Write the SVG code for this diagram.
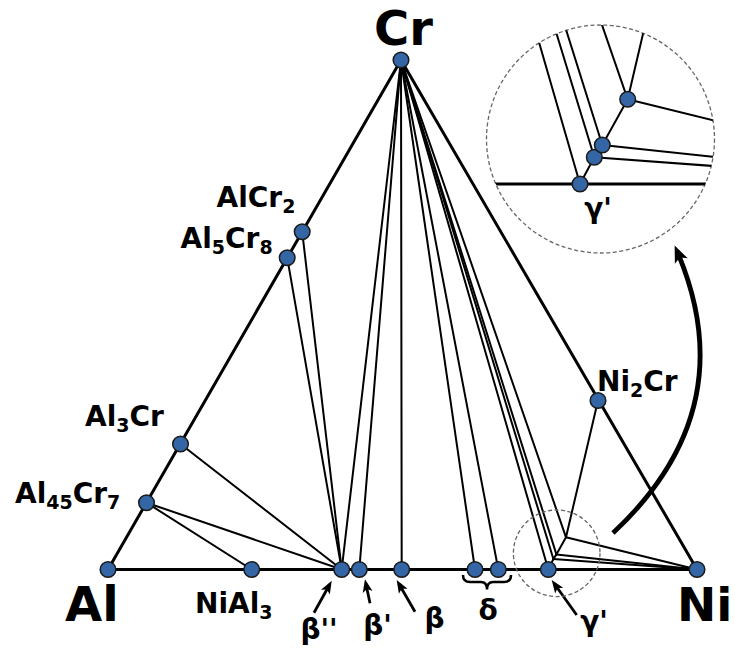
<svg xmlns="http://www.w3.org/2000/svg" width="735" height="654" viewBox="0 0 735 654">
<style>
text{font-family:"DejaVu Sans","Liberation Sans",sans-serif;font-weight:bold;fill:#000}
.big{font-size:48px}
.lbl{font-size:28px}
.sub{font-size:19px}
.edge{stroke:#000;stroke-width:3;fill:none;stroke-linecap:round}
.tie{stroke:#000;stroke-width:2;fill:none;stroke-linecap:round}
.node{fill:#3465a4;stroke:#1a1a1a;stroke-width:1.5}
.dash{fill:none;stroke:#666;stroke-width:1.3;stroke-dasharray:4 2.5}
.ptr{stroke:#000;stroke-width:2.8;fill:none}
</style>
<defs>
<marker id="ah" markerUnits="userSpaceOnUse" viewBox="-10 -6 15 12" markerWidth="15" markerHeight="12" refX="0" refY="0" orient="auto" overflow="visible">
<path d="M4,0 L-9,-5 L-6,0 L-9,5 Z" fill="#000"/>
</marker>
<marker id="bigah" markerUnits="userSpaceOnUse" viewBox="-12 -8 20 16" markerWidth="20" markerHeight="16" refX="0" refY="0" orient="auto" overflow="visible">
<path d="M6,0 L-11,-7 L-7,0 L-11,7 Z" fill="#000"/>
</marker>
<clipPath id="inset"><circle cx="600.5" cy="139" r="114"/></clipPath>
</defs>

<g id="connectors">
<path class="edge" d="M108,569.5 L401,60 L697,569.5 Z"/>
<line class="tie" x1="401" y1="60" x2="341.7" y2="569.5"/>
<line class="tie" x1="401" y1="60" x2="359.3" y2="569.5"/>
<line class="tie" x1="401" y1="60" x2="401.7" y2="569.5"/>
<line class="tie" x1="401" y1="60" x2="475" y2="569.5"/>
<line class="tie" x1="401" y1="60" x2="498.3" y2="569.5"/>
<line class="tie" x1="401" y1="60" x2="548.3" y2="569.5"/>
<line class="tie" x1="401" y1="60" x2="553.4" y2="559"/>
<line class="tie" x1="401" y1="60" x2="556.4" y2="554.4"/>
<line class="tie" x1="401" y1="60" x2="566" y2="537.3"/>
<line class="tie" x1="302.2" y1="231.7" x2="341.7" y2="569.5"/>
<line class="tie" x1="287.2" y1="257.7" x2="341.7" y2="569.5"/>
<line class="tie" x1="180.5" y1="444" x2="341.7" y2="569.5"/>
<line class="tie" x1="146.5" y1="502.7" x2="341.7" y2="569.5"/>
<line class="tie" x1="146.5" y1="502.7" x2="251.7" y2="569.5"/>
<polyline class="tie" points="548.3,569.5 553.4,559 556.4,554.4 566,537.3"/>
<line class="tie" x1="566" y1="537.3" x2="598" y2="400.5"/>
<line class="tie" x1="566" y1="537.3" x2="697" y2="569.5"/>
<line class="tie" x1="556.4" y1="554.4" x2="697" y2="569.5"/>
<line class="tie" x1="553.4" y1="559" x2="697" y2="569.5"/>
<line class="ptr" x1="314" y1="612.7" x2="329.8" y2="584.2" marker-end="url(#ah)"/>
<line class="ptr" x1="370" y1="603.3" x2="365.8" y2="583.2" marker-end="url(#ah)"/>
<line class="ptr" x1="415" y1="611.7" x2="398.7" y2="583.5" marker-end="url(#ah)"/>
<line class="ptr" x1="576.7" y1="615" x2="554" y2="583.3" marker-end="url(#ah)"/>
<path d="M463,575 Q463,582 470,582 L481,582 Q487,582 487,589.5 Q487,582 493,582 L504,582 Q511,582 511,575" fill="none" stroke="#000" stroke-width="2.5"/>
<path d="M613,533 Q745,410 677,251" fill="none" stroke="#000" stroke-width="4.8" marker-end="url(#bigah)"/>
</g>

<circle id="zoom-small" class="dash" cx="556.7" cy="553.3" r="43.3"/>

<g id="inset">
<circle class="dash" cx="600.5" cy="139" r="114" fill="none"/>
<g clip-path="url(#inset)">
<line class="edge" x1="480" y1="184" x2="720" y2="184" stroke-linecap="butt"/>
<line class="tie" x1="580" y1="184" x2="432.7" y2="-325.3"/>
<line class="tie" x1="594.3" y1="157.3" x2="441.9" y2="-341.7"/>
<line class="tie" x1="602.3" y1="145" x2="446.9" y2="-349.4"/>
<line class="tie" x1="627.7" y1="99.3" x2="462.7" y2="-378"/>
<line class="tie" x1="627.7" y1="99.3" x2="691.7" y2="-174.3"/>
<line class="tie" x1="627.7" y1="99.3" x2="889.7" y2="163.7"/>
<line class="tie" x1="602.3" y1="145" x2="883.5" y2="175.2"/>
<line class="tie" x1="594.3" y1="157.3" x2="881.5" y2="178.3"/>
<polyline class="tie" points="580,184 594.3,157.3 602.3,145 627.7,99.3"/>
</g>
<circle class="node" cx="580" cy="184" r="7.8"/>
<circle class="node" cx="594.3" cy="157.3" r="7.8"/>
<circle class="node" cx="602.3" cy="145" r="7.8"/>
<circle class="node" cx="627.7" cy="99.3" r="7.8"/>
<text class="lbl" x="598" y="218" text-anchor="middle">γ'</text>
</g>

<g id="Cr"><circle class="node" cx="401" cy="60" r="7.8"/><text class="big" x="403.5" y="45" text-anchor="middle">Cr</text></g>
<g id="Al"><circle class="node" cx="108" cy="569.5" r="7.8"/><text class="big" x="65" y="621">Al</text></g>
<g id="Ni"><circle class="node" cx="697" cy="569.5" r="7.8"/><text class="big" x="677" y="621" style="font-size:47px">Ni</text></g>
<g id="AlCr2"><circle class="node" cx="302.2" cy="231.7" r="7.8"/><text class="lbl" x="216.5" y="207">AlCr<tspan class="sub" dy="6">2</tspan></text></g>
<g id="Al5Cr8"><circle class="node" cx="287.2" cy="257.7" r="7.8"/><text class="lbl" x="180.5" y="248">Al<tspan class="sub" dy="6">5</tspan><tspan dy="-6">Cr</tspan><tspan class="sub" dy="6">8</tspan></text></g>
<g id="Al3Cr"><circle class="node" cx="180.5" cy="444" r="7.8"/><text class="lbl" x="85" y="426">Al<tspan class="sub" dy="6">3</tspan><tspan dy="-6">Cr</tspan></text></g>
<g id="Al45Cr7"><circle class="node" cx="146.5" cy="502.7" r="7.8"/><text class="lbl" x="15" y="503">Al<tspan class="sub" dy="6">45</tspan><tspan dy="-6">Cr</tspan><tspan class="sub" dy="6">7</tspan></text></g>
<g id="NiAl3"><circle class="node" cx="251.7" cy="569.5" r="7.8"/><text class="lbl" x="195" y="613">NiAl<tspan class="sub" dy="6">3</tspan></text></g>
<g id="Ni2Cr"><circle class="node" cx="598" cy="400.5" r="7.8"/><text class="lbl" x="597" y="391">Ni<tspan class="sub" dy="6">2</tspan><tspan dy="-6">Cr</tspan></text></g>
<g id="beta2"><circle class="node" cx="341.7" cy="569.5" r="7.8"/><text class="lbl" x="319" y="639" text-anchor="middle">β''</text></g>
<g id="beta1"><circle class="node" cx="359.3" cy="569.5" r="7.8"/><text class="lbl" x="377.5" y="635" text-anchor="middle">β'</text></g>
<g id="beta"><circle class="node" cx="401.7" cy="569.5" r="7.8"/><text class="lbl" x="434.5" y="628" text-anchor="middle">β</text></g>
<g id="delta"><circle class="node" cx="475" cy="569.5" r="7.8"/><circle class="node" cx="498.3" cy="569.5" r="7.8"/><text class="lbl" x="488" y="620" text-anchor="middle">δ</text></g>
<g id="gamma"><circle class="node" cx="548.3" cy="569.5" r="7.8"/><text class="lbl" x="594" y="631" text-anchor="middle">γ'</text></g>
</svg>
